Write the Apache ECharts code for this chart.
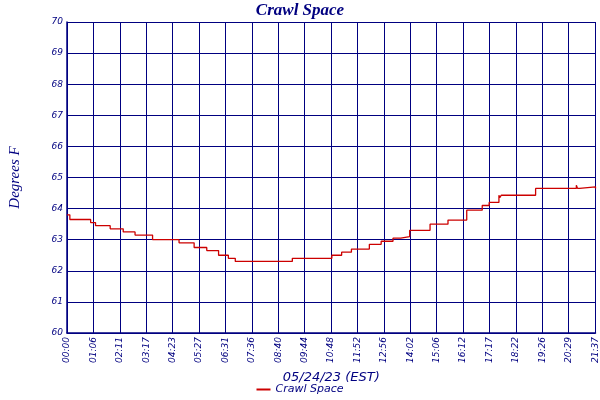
<!DOCTYPE html>
<html><head><meta charset="utf-8">
<script src="https://cdn.jsdelivr.net/npm/echarts@6/dist/echarts.min.js"></script>
<style>html,body{margin:0;padding:0;background:#fff}#c{width:600px;height:400px}</style>
</head><body><div id="c"></div>
<script>
const tickLabels = ['00:00','01:06','02:11','03:17','04:23','05:27','06:31','07:36','08:40','09:44','10:48','11:52','12:56','14:02','15:06','16:12','17:17','18:22','19:26','20:29','21:33'];
const lastLabel = '21:37';
const minutes = [0,7,58,70,106,138,167,210,275,312,343,372,396,413,553,650,674,698,742,771,800,819,841,891,935,981,1019,1036,1060,1062,1066,1150,1250,1253,1258,1297];
const temps   = [63.8,63.65,63.55,63.45,63.35,63.25,63.15,63.0,62.9,62.75,62.65,62.5,62.4,62.3,62.4,62.5,62.6,62.7,62.85,62.95,63.05,63.1,63.3,63.5,63.63,63.95,64.1,64.2,64.43,64.35,64.43,64.65,64.75,64.65,64.7,64.65];
const seriesName = 'Crawl Space';
const navy = '#000080';
const step = 64.8, xMax = 1297;
const chart = echarts.init(document.getElementById('c'));
chart.setOption({
  animation:false,
  title:{text:'Crawl Space',left:'center',top:-3,textStyle:{fontFamily:'Liberation Serif',fontStyle:'italic',fontWeight:'bold',fontSize:17,color:navy}},
  grid:{left:61,right:2,top:22,bottom:67},
  legend:{bottom:0,left:'center',itemWidth:14,itemHeight:2,icon:'rect',data:[seriesName],textStyle:{fontFamily:'DejaVu Sans',fontStyle:'italic',fontSize:11,color:navy}},
  xAxis:{type:'value',min:0,max:xMax,interval:step,
    name:'05/24/23 (EST)',nameLocation:'middle',nameGap:38,
    nameTextStyle:{fontFamily:'DejaVu Sans',fontStyle:'italic',fontSize:13,color:navy},
    axisLine:{lineStyle:{color:navy,width:1.5}},axisTick:{show:false},
    splitLine:{show:true,lineStyle:{color:navy,width:1}},
    axisLabel:{rotate:90,showMaxLabel:true,fontFamily:'DejaVu Sans',fontStyle:'italic',fontSize:9,color:navy,margin:4,
      formatter:v=> v>=xMax-0.5 ? lastLabel : (tickLabels[Math.round(v/step)]||'')}},
  yAxis:{type:'value',min:60,max:70,interval:1,
    name:'Degrees F',nameLocation:'middle',nameGap:44,
    nameTextStyle:{fontFamily:'Liberation Serif',fontStyle:'italic',fontSize:15,color:navy},
    axisLine:{show:true,lineStyle:{color:navy,width:1.5}},axisTick:{show:false},
    splitLine:{lineStyle:{color:navy,width:1}},
    axisLabel:{fontFamily:'DejaVu Sans',fontStyle:'italic',fontSize:9,color:navy,margin:4}},
  series:[{name:seriesName,type:'line',step:'end',symbol:'none',
    lineStyle:{color:'#cc0000',width:1.3},itemStyle:{color:'#cc0000'},
    data:minutes.map((m,i)=>[m,temps[i]])}]
});
</script></body></html>
